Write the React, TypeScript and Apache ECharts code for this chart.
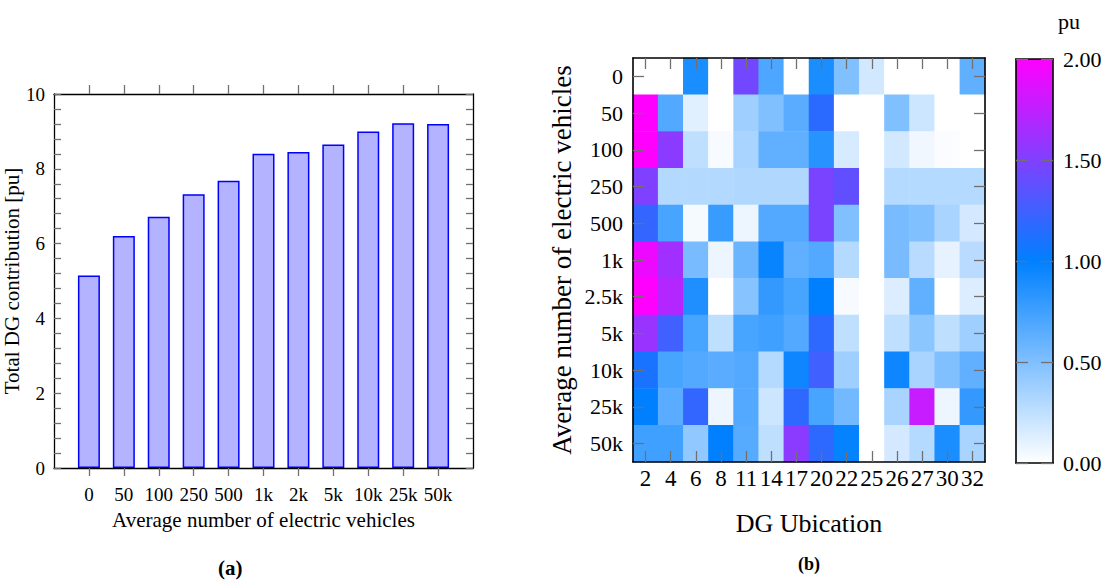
import React, { useEffect, useRef } from "react";
import * as echarts from "echarts";

const barCategories = ["0", "50", "100", "250", "500", "1k", "2k", "5k", "10k", "25k", "50k"];
const barValues = [5.15, 6.2, 6.72, 7.32, 7.68, 8.4, 8.45, 8.65, 9.0, 9.22, 9.2];

const dgLocations = ["2", "4", "6", "8", "11", "14", "17", "20", "22", "25", "26", "27", "30", "32"];
const evLevels = ["0", "50", "100", "250", "500", "1k", "2.5k", "5k", "10k", "25k", "50k"];
const cellValues: number[][] = [
  [0, 0, 0.9, 0, 1.45, 0.7, 0, 0.9, 0.5, 0.18, 0, 0, 0, 0.62],
  [2.0, 0.68, 0.12, 0, 0.38, 0.5, 0.65, 1.17, 0, 0, 0.5, 0.2, 0, 0],
  [2.0, 1.54, 0.25, 0.03, 0.34, 0.62, 0.62, 0.85, 0.16, 0, 0.18, 0.06, 0.02, 0],
  [1.5, 0.3, 0.3, 0.3, 0.31, 0.31, 0.31, 1.48, 1.38, 0, 0.29, 0.29, 0.29, 0.29],
  [1.2, 0.72, 0.04, 0.78, 0.07, 0.68, 0.68, 1.48, 0.5, 0, 0.53, 0.5, 0.34, 0.17],
  [1.93, 1.63, 0.53, 0.07, 0.58, 0.97, 0.62, 0.68, 0.29, 0, 0.53, 0.28, 0.1, 0.28],
  [2.0, 1.7, 0.88, 0, 0.47, 0.8, 0.72, 1.0, 0.03, 0, 0.14, 0.62, 0, 0.14],
  [1.6, 1.25, 0.72, 0.25, 0.72, 0.75, 0.68, 1.18, 0.25, 0, 0.25, 0.45, 0.25, 0.38],
  [1.1, 0.72, 0.68, 0.65, 0.68, 0.29, 0.95, 1.25, 0.38, 0, 0.95, 0.34, 0.5, 0.62],
  [1.0, 0.65, 1.2, 0.07, 0.68, 0.2, 1.18, 0.72, 0.55, 0, 0.34, 1.78, 0.07, 0.8],
  [0.75, 0.75, 0.43, 1.0, 0.66, 0.25, 1.54, 1.18, 0.98, 0, 0.17, 0.29, 0.9, 0.34],
];
const colorbarTicks = [0, 0.5, 1, 1.5, 2];

const FONT = "Liberation Serif";
const GRAY = "#707070";

export default function App() {
  const ref = useRef<HTMLDivElement>(null);
  useEffect(() => {
    document.body.style.margin = "0";
    const chart = echarts.init(ref.current!, null, { renderer: "svg" });
    const heatData: number[][] = [];
    cellValues.forEach((row, yi) => row.forEach((v, xi) => heatData.push([xi, yi, v])));
    const idx = barCategories.map((_, i) => i);
    const line = (w: number) => ({ show: true, onZero: false, lineStyle: { color: "#000", width: w } });
    const tick = (inside: boolean, len: number, extra: any = {}) => ({
      show: true, inside, length: len, lineStyle: { color: GRAY, width: 1.3 }, ...extra,
    });
    const minor = { show: true, splitNumber: 5, length: 7, lineStyle: { color: GRAY, width: 1.3 } };
    const AX = { zlevel: 1, z: 10 };

    const option: any = {
      animation: false,
      backgroundColor: "#ffffff",
      textStyle: { fontFamily: FONT, color: "#000" },
      grid: [
        { left: 54, top: 94, width: 419, height: 374, show: false },
        { left: 633, top: 58, width: 352, height: 404, show: false },
        { left: 1016, top: 59, width: 37, height: 404, show: false },
      ],
      visualMap: {
        show: false,
        seriesIndex: 1,
        min: 0,
        max: 2,
        inRange: { color: ["#ffffff", "#0080ff", "#ff00ff"] },
      },
      xAxis: [
        {
          ...AX, gridIndex: 0, type: "value", min: -1, max: 11, interval: 1, position: "bottom",
          name: "Average number of electric vehicles", nameLocation: "middle", nameGap: 41,
          nameTextStyle: { fontSize: 21, fontFamily: FONT, color: "#000" },
          axisLine: line(1.3),
          axisTick: tick(false, 8, { customValues: idx }),
          axisLabel: { customValues: idx, margin: 17, fontSize: 19, fontFamily: FONT, color: "#000",
            formatter: (v: number) => barCategories[Math.round(v)] ?? "" },
          splitLine: { show: false },
        },
        {
          ...AX, gridIndex: 0, type: "value", min: -1, max: 11, interval: 1, position: "top",
          axisLine: line(1.3),
          axisTick: tick(false, 9, { customValues: idx }),
          axisLabel: { show: false },
          splitLine: { show: false },
        },
        {
          ...AX, gridIndex: 1, type: "category", data: dgLocations, position: "bottom",
          name: "DG Ubication", nameLocation: "middle", nameGap: 48,
          nameTextStyle: { fontSize: 26, fontFamily: FONT, color: "#000" },
          axisLine: line(1.6),
          axisTick: tick(true, 11, { alignWithLabel: true, interval: 0 }),
          axisLabel: { interval: 0, margin: 5, fontSize: 23, fontFamily: FONT, color: "#000" },
          splitLine: { show: false },
        },
        {
          ...AX, gridIndex: 1, type: "category", data: dgLocations, position: "top",
          axisLine: line(1.6),
          axisTick: tick(true, 11, { alignWithLabel: true, interval: 0 }),
          axisLabel: { show: false },
          splitLine: { show: false },
        },
        {
          ...AX, gridIndex: 2, type: "category", data: ["pu"],
          axisLine: line(1.6),
          axisTick: { show: false }, axisLabel: { show: false },
        },
        {
          ...AX, gridIndex: 2, type: "category", data: ["pu"], position: "top",
          axisLine: line(1.6),
          axisTick: { show: false }, axisLabel: { show: false },
        },
      ],
      yAxis: [
        {
          ...AX, gridIndex: 0, type: "value", min: 0, max: 10, interval: 2, position: "left",
          name: "Total DG contribution [pu]", nameLocation: "middle", nameGap: 24,
          nameTextStyle: { fontSize: 21, fontFamily: FONT, color: "#000" },
          axisLine: line(1.3),
          axisTick: tick(true, 7),
          minorTick: minor,
          axisLabel: { margin: 9, fontSize: 19, fontFamily: FONT, color: "#000" },
          splitLine: { show: false },
        },
        {
          ...AX, gridIndex: 0, type: "value", min: 0, max: 10, interval: 2, position: "right",
          axisLine: line(1.3),
          axisTick: tick(true, 7),
          minorTick: minor,
          axisLabel: { show: false },
          splitLine: { show: false },
        },
        {
          ...AX, gridIndex: 1, type: "category", data: evLevels, inverse: true, position: "left",
          name: "Average number of electric vehicles", nameLocation: "middle", nameGap: 58,
          nameTextStyle: { fontSize: 27, fontFamily: FONT, color: "#000" },
          axisLine: line(1.6),
          axisTick: tick(true, 11, { alignWithLabel: true, interval: 0 }),
          axisLabel: { interval: 0, margin: 10, fontSize: 22, fontFamily: FONT, color: "#000" },
          splitLine: { show: false },
        },
        {
          ...AX, gridIndex: 1, type: "category", data: evLevels, inverse: true, position: "right",
          axisLine: line(1.6),
          axisTick: tick(true, 11, { alignWithLabel: true, interval: 0 }),
          axisLabel: { show: false },
          splitLine: { show: false },
        },
        {
          ...AX, gridIndex: 2, type: "value", min: 0, max: 2, interval: 0.5, position: "right",
          axisLine: line(1.6),
          axisTick: tick(true, 12),
          axisLabel: { margin: 10, fontSize: 22, fontFamily: FONT, color: "#000",
            customValues: colorbarTicks, formatter: (v: number) => v.toFixed(2) },
          splitLine: { show: false },
        },
        {
          ...AX, gridIndex: 2, type: "value", min: 0, max: 2, interval: 0.5, position: "left",
          axisLine: line(1.6),
          axisTick: tick(true, 12),
          axisLabel: { show: false },
          splitLine: { show: false },
        },
      ],
      series: [
        {
          type: "bar", xAxisIndex: 0, yAxisIndex: 0, barWidth: 22, z: 2,
          data: barValues.map((v, i) => [i, v]),
          itemStyle: { color: "#b3b3ff", borderColor: "#0000ff", borderWidth: 1.5 },
        },
        {
          type: "heatmap", xAxisIndex: 2, yAxisIndex: 2, data: heatData, z: 1,
          itemStyle: { borderWidth: 0 },
        },
        {
          type: "bar", xAxisIndex: 4, yAxisIndex: 4, barWidth: "100%", z: 1,
          data: [2],
          itemStyle: {
            color: {
              type: "linear", x: 0, y: 0, x2: 0, y2: 1,
              colorStops: [
                { offset: 0, color: "#ff00ff" },
                { offset: 0.5, color: "#0080ff" },
                { offset: 1, color: "#ffffff" },
              ],
            },
          },
        },
      ],
      graphic: [
        { type: "text", left: 1058, top: 10, style: { text: "pu", font: `22px "${FONT}"`, fill: "#000" } },
        { type: "text", left: 218, top: 557, style: { text: "(a)", font: `bold 21px "${FONT}"`, fill: "#000" } },
        { type: "text", left: 798, top: 555, style: { text: "(b)", font: `bold 18px "${FONT}"`, fill: "#000" } },
      ],
    };
    chart.setOption(option);
    return () => chart.dispose();
  }, []);
  return <div ref={ref} style={{ width: 1109, height: 582 }} />;
}
